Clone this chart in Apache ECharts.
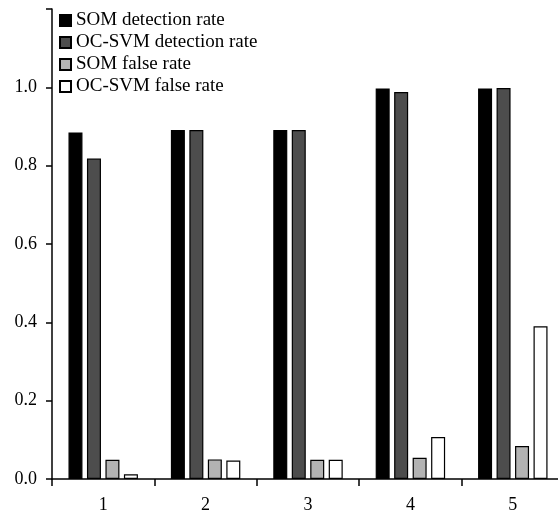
<!DOCTYPE html>
<html>
<head>
<meta charset="utf-8">
<script src="https://cdn.jsdelivr.net/npm/echarts@6/dist/echarts.min.js"></script>
<style>html,body{margin:0;padding:0;background:#fff;overflow:hidden}#c{width:558px;height:513px}</style>
</head>
<body>
<div id="c"></div>
<script>
var categories = ['1', '2', '3', '4', '5'];
var somDetection = [0.885, 0.891, 0.891, 0.997, 0.997];
var ocsvmDetection = [0.818, 0.891, 0.891, 0.988, 0.998];
var somFalse = [0.049, 0.050, 0.049, 0.054, 0.084];
var ocsvmFalse = [0.012, 0.047, 0.049, 0.107, 0.390];
var seriesNames = ['SOM detection rate', 'OC-SVM detection rate', 'SOM false rate', 'OC-SVM false rate'];

var font = '"Liberation Serif", "Times New Roman", serif';
var chart = echarts.init(document.getElementById('c'), null, {renderer: 'canvas'});
function bar(name, data, color) {
  return {
    name: name, type: 'bar', data: data, barWidth: 14, barGap: '32%',
    itemStyle: {color: color, borderColor: '#000', borderWidth: 1.2},
    emphasis: {disabled: true}
  };
}
chart.setOption({
  animation: false,
  backgroundColor: '#fff',
  grid: {left: 52, width: 512, top: 9, bottom: 34, containLabel: false, outerBoundsMode: 'none'},
  legend: {
    orient: 'vertical', left: 59, top: 11, padding: 0,
    itemWidth: 11, itemHeight: 11, itemGap: 3, icon: 'rect',
    textStyle: {fontFamily: font, fontSize: 19, color: '#000', lineHeight: 19},
    data: seriesNames
  },
  xAxis: {
    type: 'category', data: categories, boundaryGap: true,
    axisLine: {lineStyle: {color: '#000', width: 1.5}},
    axisTick: {show: true, length: 7, alignWithLabel: false, lineStyle: {color: '#000', width: 1.5}},
    axisLabel: {fontFamily: font, fontSize: 18, color: '#000', margin: 17},
    splitLine: {show: false}
  },
  yAxis: {
    type: 'value', min: 0, max: 1.2, interval: 0.2,
    axisLine: {show: true, lineStyle: {color: '#000', width: 1.5}},
    axisTick: {show: true, length: 6, lineStyle: {color: '#000', width: 1.5}},
    axisLabel: {fontFamily: font, fontSize: 18, color: '#000', margin: 15,
      formatter: function (v) { return Math.abs(v - 1.2) < 1e-6 ? '' : v.toFixed(1); }},
    splitLine: {show: false}
  },
  series: [
    bar(seriesNames[0], somDetection, '#000000'),
    bar(seriesNames[1], ocsvmDetection, '#4d4d4d'),
    bar(seriesNames[2], somFalse, '#b3b3b3'),
    bar(seriesNames[3], ocsvmFalse, '#ffffff')
  ]
});
</script>
</body>
</html>
